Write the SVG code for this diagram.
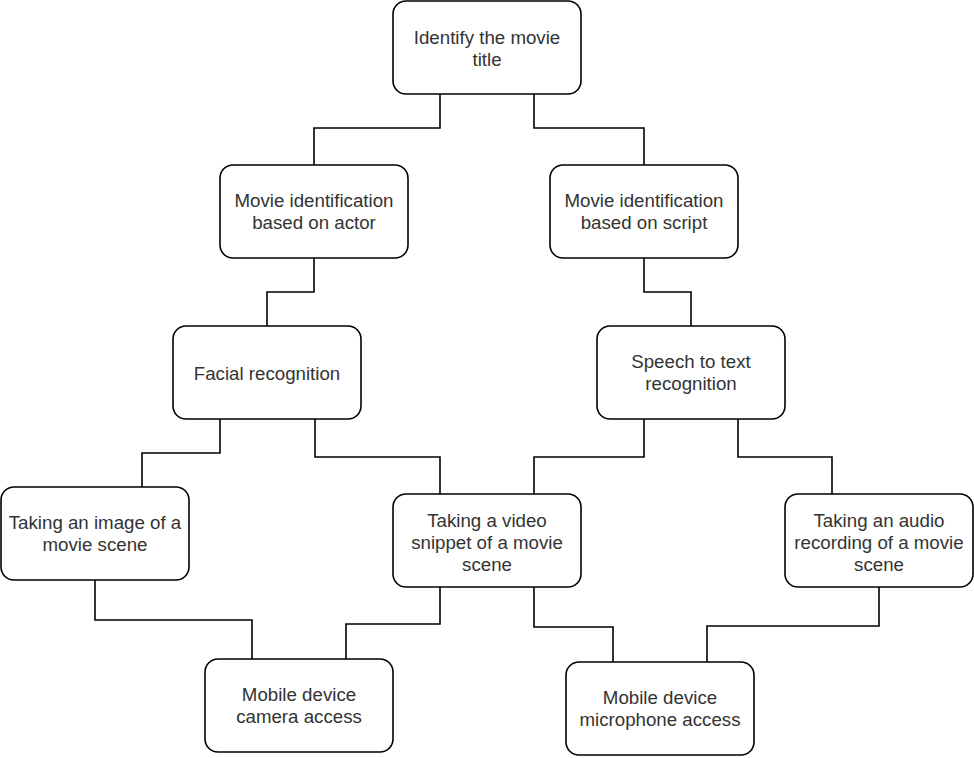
<svg xmlns="http://www.w3.org/2000/svg" width="974" height="758" viewBox="0 0 974 758">
<style>
.box{fill:#ffffff;stroke:#000000;stroke-width:1.6}
.lbl{font-family:"Liberation Sans",Arial,sans-serif;font-size:18.7px;fill:#333333;text-anchor:middle}
.conn{fill:none;stroke:#000000;stroke-width:1.6}
</style>
<rect x="0" y="0" width="974" height="758" fill="#ffffff"/>
<g id="connectors">
<path class="conn" d="M440 94 V128 H314 V165"/>
<path class="conn" d="M534 94 V128 H644 V165"/>
<path class="conn" d="M314 258 V292 H267 V326"/>
<path class="conn" d="M644 258 V292 H691 V326"/>
<path class="conn" d="M220 419 V453 H142 V487"/>
<path class="conn" d="M315 419 V457 H440 V494"/>
<path class="conn" d="M644 419 V457 H534 V494"/>
<path class="conn" d="M738 419 V457 H832 V494"/>
<path class="conn" d="M95 580 V620 H252 V659"/>
<path class="conn" d="M440 587 V624 H346 V659"/>
<path class="conn" d="M534 587 V627 H613 V662"/>
<path class="conn" d="M879 587 V626 H707 V662"/>
</g>
<g id="n1"><rect class="box" x="393" y="1" width="188" height="93" rx="13"/>
<text class="lbl" x="487" y="43.5">Identify the movie</text><text class="lbl" x="487" y="65.5">title</text></g>
<g id="n2"><rect class="box" x="220" y="165" width="188" height="93" rx="13"/>
<text class="lbl" x="314" y="207">Movie identification</text><text class="lbl" x="314" y="229">based on actor</text></g>
<g id="n3"><rect class="box" x="550" y="165" width="188" height="93" rx="13"/>
<text class="lbl" x="644" y="207">Movie identification</text><text class="lbl" x="644" y="229">based on script</text></g>
<g id="n4"><rect class="box" x="173" y="326" width="188" height="93" rx="13"/>
<text class="lbl" x="267" y="379.5">Facial recognition</text></g>
<g id="n5"><rect class="box" x="597" y="326" width="188" height="93" rx="13"/>
<text class="lbl" x="691" y="368">Speech to text</text><text class="lbl" x="691" y="390">recognition</text></g>
<g id="n6"><rect class="box" x="1" y="487" width="188" height="93" rx="13"/>
<text class="lbl" x="95" y="529">Taking an image of a</text><text class="lbl" x="95" y="551">movie scene</text></g>
<g id="n7"><rect class="box" x="393" y="494" width="188" height="93" rx="13"/>
<text class="lbl" x="487" y="526.5">Taking a video</text><text class="lbl" x="487" y="548.5">snippet of a movie</text><text class="lbl" x="487" y="570.5">scene</text></g>
<g id="n8"><rect class="box" x="785" y="494" width="188" height="93" rx="13"/>
<text class="lbl" x="879" y="526.5">Taking an audio</text><text class="lbl" x="879" y="548.5">recording of a movie</text><text class="lbl" x="879" y="570.5">scene</text></g>
<g id="n9"><rect class="box" x="205" y="659" width="188" height="93" rx="13"/>
<text class="lbl" x="299" y="701">Mobile device</text><text class="lbl" x="299" y="723">camera access</text></g>
<g id="n10"><rect class="box" x="566" y="662" width="188" height="93" rx="13"/>
<text class="lbl" x="660" y="704">Mobile device</text><text class="lbl" x="660" y="726">microphone access</text></g>
</svg>
